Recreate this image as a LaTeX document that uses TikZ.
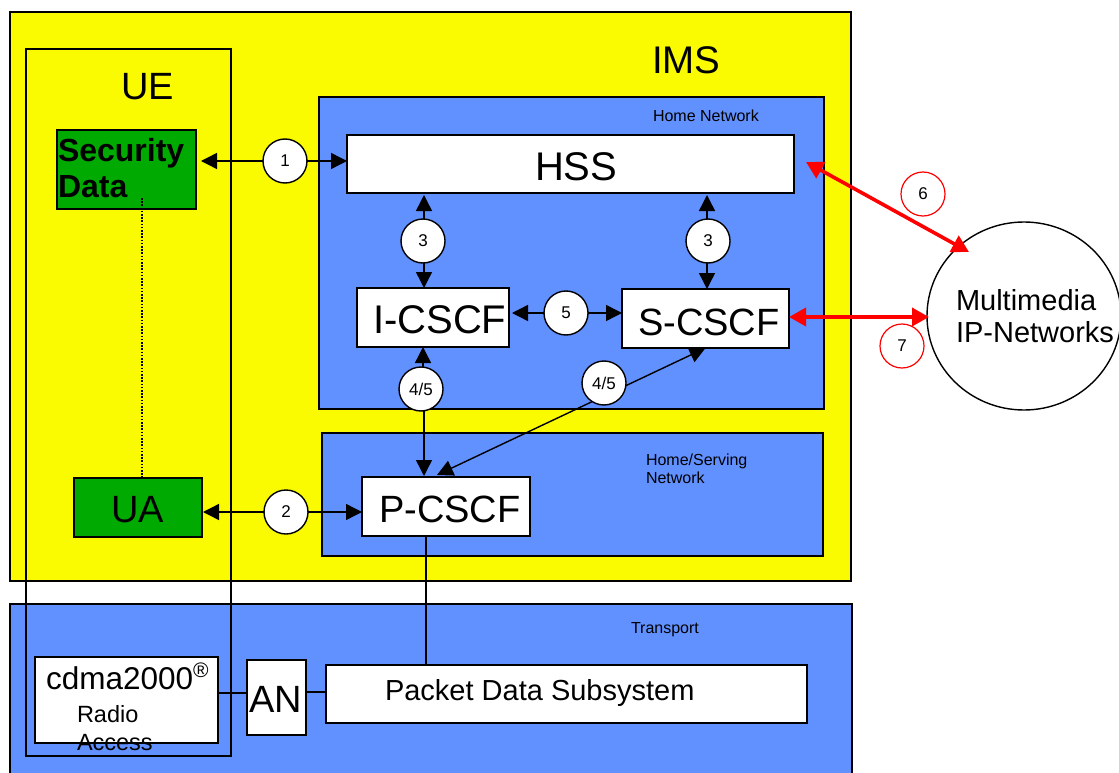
\documentclass[tikz,border=0pt]{standalone}
\usepackage{fontspec}
\setmainfont{Liberation Sans}
\usetikzlibrary{arrows.meta,shapes.geometric}
\definecolor{imsyellow}{HTML}{FAFA00}
\definecolor{netblue}{HTML}{6190FF}
\definecolor{secgreen}{HTML}{00AA00}
\newcommand{\fsz}[1]{\fontsize{#1}{#1}\selectfont}
\newcommand{\numt}[1]{\raisebox{-1.5pt}{#1}}
\tikzset{
  box/.style={draw=black,fill=white,line width=1.4pt,inner sep=0pt,outer sep=0pt},
  bluebox/.style={box,fill=netblue},
  greenbox/.style={box,fill=secgreen},
  numc/.style={circle,draw=black,fill=white,line width=1.4pt,minimum size=44pt,inner sep=0pt,outer sep=0pt,font=\fsz{17}},
  redc/.style={numc,draw=red,line width=1.2pt},
  txt/.style={inner sep=0pt,outer sep=0pt,anchor=base west,text=black},
  conn/.style={line width=1.4pt,draw=black},
  arr/.style={conn,-{Triangle[length=16pt,width=16pt]}},
  darr/.style={conn,{Triangle[length=16pt,width=16pt]}-{Triangle[length=16pt,width=16pt]}},
  redarr/.style={line width=3.6pt,draw=red,{Triangle[length=17pt,width=18pt]}-{Triangle[length=17pt,width=18pt]}},
}
\begin{document}
\begin{tikzpicture}[x=1pt,y=-1pt]
\useasboundingbox (0,0) rectangle (1119,773);
% regions
\node[box,fill=imsyellow,line width=1.1pt,minimum width=841,minimum height=569] (ims) at (430.5,296.5) {};
\fill[netblue] (10,773) -- (10,604) -- (852,604) -- (852,773) -- cycle;
\draw[line width=1.4pt] (10,773) -- (10,604) -- (852,604) -- (852,773);
\node[bluebox,minimum width=505,minimum height=312] (home) at (571.5,253) {};
\node[bluebox,minimum width=501,minimum height=123] (serving) at (572.5,494.5) {};
\node[draw=black,line width=1.4pt,inner sep=0pt,outer sep=0pt,minimum width=205,minimum height=707] (ue) at (128.5,402.5) {};
% boxes
\node[greenbox,minimum width=139,minimum height=79] (sec) at (126.5,169.5) {};
\node[greenbox,minimum width=128,minimum height=59] (ua) at (138,507.5) {};
\node[box,minimum width=447,minimum height=58] (hss) at (570.5,164) {};
\node[box,minimum width=152,minimum height=59] (icscf) at (433,317.5) {};
\node[box,minimum width=167,minimum height=59] (scscf) at (705.5,318.5) {};
\node[box,minimum width=168,minimum height=59] (pcscf) at (446,506.5) {};
\node[box,minimum width=183,minimum height=86] (cdma) at (126.5,700) {};
\node[box,minimum width=59,minimum height=75] (an) at (276.5,697.5) {};
\node[box,minimum width=481,minimum height=58] (pds) at (566.5,694) {};
\node[ellipse,draw=black,fill=white,line width=1.4pt,inner sep=0pt,outer sep=0pt,minimum width=194,minimum height=188] (mm) at (1024,316) {};
% numbered circles
\node[numc] (c1) at (285,161) {\numt{1}};
\node[numc] (c2) at (286,512) {\numt{2}};
\node[numc] (c3a) at (423,241) {\numt{3}};
\node[numc] (c3b) at (708,241) {\numt{3}};
\node[numc] (c5) at (566,313) {\numt{5}};
\node[numc] (c45a) at (421,389) {\numt{4/5}};
% connectors
\draw[arr] (c1) -- ([xshift=5]c1 -| sec.east);
\draw[arr] (c1) -- (c1 -| hss.west);
\draw[arr] (c2) -- ([xshift=1]c2 -| ua.east);
\draw[arr] (c2) -- (c2 -| pcscf.west);
\draw[arr] ([xshift=1]c3a.north) -- ([xshift=1,yshift=-2]c3a.north |- hss.south);
\draw[arr] ([xshift=1]c3a.south) -- ([xshift=1]c3a.south |- icscf.north);
\draw[arr] ([xshift=-1]c3b.north) -- ([xshift=-1,yshift=-2]c3b.north |- hss.south);
\draw[arr] ([xshift=-1]c3b.south) -- ([xshift=-1]c3b.south |- scscf.north);
\draw[arr] (c5) -- ([xshift=3]c5 -| icscf.east);
\draw[arr] (c5) -- (c5 -| scscf.west);
\draw[arr] ([xshift=2]c45a.north) -- ([xshift=2]c45a.north |- icscf.south);
\draw[arr] ([xshift=3]c45a.south) -- ([xshift=3,yshift=1]c45a.south |- pcscf.north);
\draw[darr] ([xshift=-9,yshift=2]pcscf.north) -- (scscf.south);
\node[numc] (c45b) at (604,383) {\numt{4/5}};
\draw[conn] ([xshift=-20]pcscf.south) -- ([xshift=-20]pcscf.south |- pds.north);
\draw[conn] ([yshift=7]cdma.east) -- ([yshift=4.5]an.west);
\draw[conn] ([yshift=5.5]an.east) -- ([yshift=2]pds.west);
\draw[line width=1.5pt,dash pattern=on 1.6pt off 1.6pt] ([xshift=15.5,yshift=11]sec.south) -- ([xshift=4]ua.north);
% red links
\node[redc] (c6) at (923,194) {\numt{6}};
\node[redc] (c7) at (902,346) {\numt{7}};
\coordinate (r6a) at ([xshift=12,yshift=2]hss.east);
\coordinate (r6b) at ([xshift=-55,yshift=64]mm.center);
\draw[redarr] (r6a) -- (r6b);
\draw[redarr] ([xshift=2,yshift=-1]mm.west) -- ([yshift=-1]mm.west -| scscf.east);
% labels
\node[txt,font=\fsz{38.5}] (limsl) at (652,74) {IMS};
\node[txt,font=\fsz{38}] (lue) at (121,100) {UE};
\node[txt,font=\fsz{16}] (lhome) at (653,122) {Home Network};
\node[txt,font=\fsz{16}] (lhs1) at (646,465) {Home/Serving};
\node[txt,font=\fsz{16}] (lhs2) at (646,483) {Network};
\node[txt,font=\fsz{16}] (ltr) at (631,633) {Transport};
\node[txt,font=\bfseries\fsz{32}] (lsec1) at (58,161) {Security};
\node[txt,font=\bfseries\fsz{32}] (lsec2) at (58,197) {Data};
\node[txt,font=\fsz{38}] (lua) at (111,522) {UA};
\node[txt,font=\fsz{40}] (lhss) at (535,180) {HSS};
\node[txt,font=\fsz{40}] (licscf) at (373,333) {I-CSCF};
\node[txt,font=\fsz{38}] (lscscf) at (638,335) {S-CSCF};
\node[txt,font=\fsz{38}] (lpcscf) at (379,522) {P-CSCF};
\node[txt,font=\fsz{38}] (lan) at (249,712) {AN};
\node[txt,font=\fsz{31.5}] (lcdma) at (46,689) {cdma2000};
\node[txt,font=\fsz{21}] (lreg) at (193,677) {®};
\node[txt,font=\fsz{23.5}] (lra1) at (77,722) {Radio};
\node[txt,font=\fsz{23.5}] (lra2) at (77,750) {Access};
\node[txt,font=\fsz{29}] (lpds) at (385,700) {Packet Data Subsystem};
\node[txt,font=\fsz{29}] (lmm1) at (956,310) {Multimedia};
\node[txt,font=\fsz{29}] (lmm2) at (956,342) {IP-Networks};
\end{tikzpicture}
\end{document}
